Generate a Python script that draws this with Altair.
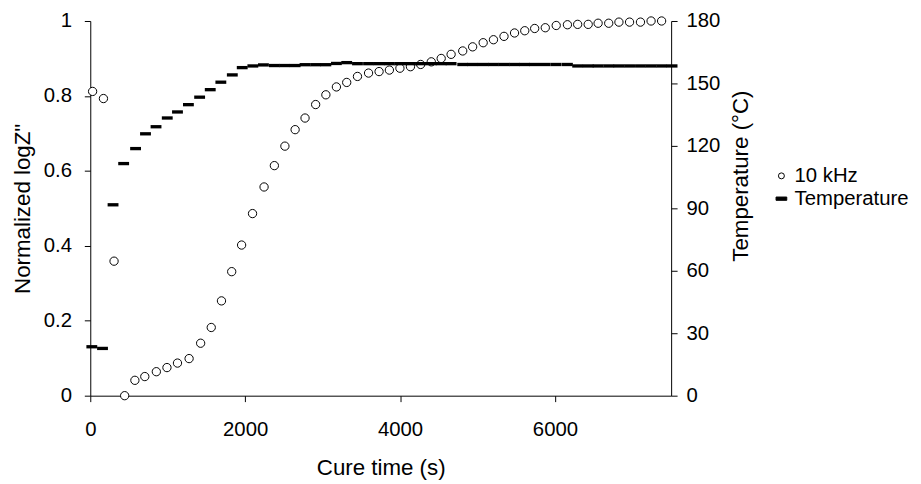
import altair as alt
import pandas as pd

# ---- data ----
time_s = [30, 170, 307, 444, 576, 704, 853, 990, 1126, 1276,
          1425, 1562, 1694, 1826, 1954, 2095, 2244, 2377, 2513, 2645,
          2773, 2910, 3042, 3178, 3311, 3450, 3593, 3729, 3862, 3998,
          4134, 4266, 4403, 4531, 4659, 4809, 4937, 5073, 5206, 5342,
          5478, 5610, 5738, 5875, 6016, 6161, 6293, 6429, 6557, 6694,
          6826, 6963, 7104, 7241, 7377]
logz_10khz = [0.812, 0.793, 0.359, 0.0, 0.041, 0.051, 0.064, 0.075, 0.087, 0.099,
              0.140, 0.182, 0.253, 0.331, 0.402, 0.486, 0.557, 0.614, 0.666, 0.710,
              0.741, 0.777, 0.803, 0.824, 0.836, 0.852, 0.861, 0.865, 0.869, 0.874,
              0.878, 0.884, 0.891, 0.900, 0.911, 0.920, 0.931, 0.942, 0.950, 0.959,
              0.968, 0.974, 0.980, 0.982, 0.988, 0.990, 0.991, 0.991, 0.994, 0.994,
              0.997, 0.997, 0.997, 1.0, 1.0]

temp_time_s = [20, 158, 294, 431, 585, 713, 849, 994, 1126, 1267,
               1412, 1549, 1686, 1834, 1962, 2099, 2236, 2377, 2510, 2645,
               2773, 2910, 3042, 3178, 3311, 3450, 3593, 3729, 3862, 3998,
               4134, 4266, 4403, 4531, 4659, 4809, 4937, 5073, 5206, 5342,
               5478, 5610, 5738, 5875, 6016, 6161, 6293, 6429, 6557, 6694,
               6826, 6963, 7104, 7241, 7377, 7512]
temperature_c = [23.5, 22.7, 91.7, 111.5, 118.7, 125.8, 129.2, 133.4, 136.3, 139.8,
                 143.4, 147.0, 150.6, 154.1, 157.6, 158.4, 158.9, 158.6, 158.6, 158.6,
                 159.0, 159.0, 159.0, 159.6, 160.0, 159.5, 159.5, 159.5, 159.5, 159.5,
                 159.5, 159.5, 159.5, 159.5, 159.5, 159.1, 159.1, 159.1, 159.1, 159.1,
                 159.1, 159.1, 159.1, 159.1, 159.1, 159.1, 158.4, 158.4, 158.4, 158.4,
                 158.4, 158.4, 158.4, 158.4, 158.4, 158.4]

series_names = ["10 kHz", "Temperature"]
x_ticks = [0, 2000, 4000, 6000]
left_ticks = [0, 0.2, 0.4, 0.6, 0.8, 1]
right_ticks = [0, 30, 60, 90, 120, 150, 180]

df_z = pd.DataFrame({"t": time_s, "v": logz_10khz, "series": series_names[0]})
df_t = pd.DataFrame({"t": temp_time_s, "v": temperature_c, "series": series_names[1]})

FONT = "Liberation Sans"
DASH = "M-1.8,-0.55H1.8V0.55H-1.8Z"


def make_legend():
    return alt.Legend(title=None, orient="none", legendX=687, legendY=146,
                      symbolSize=36, symbolStrokeColor="black", symbolStrokeWidth=1,
                      labelFontSize=20.5, labelFont=FONT, labelColor="black",
                      labelOffset=3, rowPadding=2, padding=0)


shape_enc = alt.Shape("series:N", scale=alt.Scale(domain=series_names, range=["circle", DASH]),
                      legend=make_legend())
fill_enc = alt.Fill("series:N", scale=alt.Scale(domain=series_names, range=["white", "black"]),
                    legend=make_legend())
stroke_enc = alt.Stroke("series:N", scale=alt.Scale(domain=series_names, range=["black", "black"]),
                        legend=make_legend())

x_enc = alt.X("t:Q", scale=alt.Scale(domain=[0, 7500], nice=False),
              axis=alt.Axis(title="Cure time (s)", values=x_ticks, format="d",
                            titleBaseline="alphabetic", titleY=80, labelPadding=18,
                            labelFlush=False))

circles = alt.Chart(df_z).mark_point(filled=True, strokeWidth=1,
                                     size=70, opacity=1).encode(
    x=x_enc,
    y=alt.Y("v:Q", scale=alt.Scale(domain=[0, 1], nice=False),
            axis=alt.Axis(title='Normalized logZ"', values=left_ticks, format=".1~f",
                          orient="left", labelPadding=13, titleAngle=270,
                          titleBaseline="alphabetic", titleX=-61)),
    shape=shape_enc,
    fill=fill_enc,
    stroke=stroke_enc,
)

temps = alt.Chart(df_t).mark_point(filled=True, strokeWidth=0, size=37, opacity=1).encode(
    x=x_enc,
    y=alt.Y("v:Q", scale=alt.Scale(domain=[0, 180], nice=False),
            axis=alt.Axis(title="Temperature (°C)", values=right_ticks, format="d",
                          orient="right", labelPadding=9, titleAngle=270,
                          titleBaseline="alphabetic", titleX=77, titleY=156)),
    shape=shape_enc,
    fill=fill_enc,
    stroke=stroke_enc,
)

chart = alt.layer(circles, temps).resolve_scale(y="independent").properties(
    width=586, height=378,
    padding={"left": 83, "top": 11, "right": 244, "bottom": 87},
    autosize=alt.AutoSizeParams(type="none"),
    background="white",
).configure_view(stroke=None).configure_axis(
    grid=False, domainColor="black", domainWidth=1, tickColor="black", tickSize=6,
    labelColor="black", titleColor="black", labelFont=FONT, titleFont=FONT,
    labelFontSize=20.5, titleFontSize=22.5, titleFontWeight="normal",
)

chart.save("out.html", embed_options={"renderer": "svg", "actions": False})
